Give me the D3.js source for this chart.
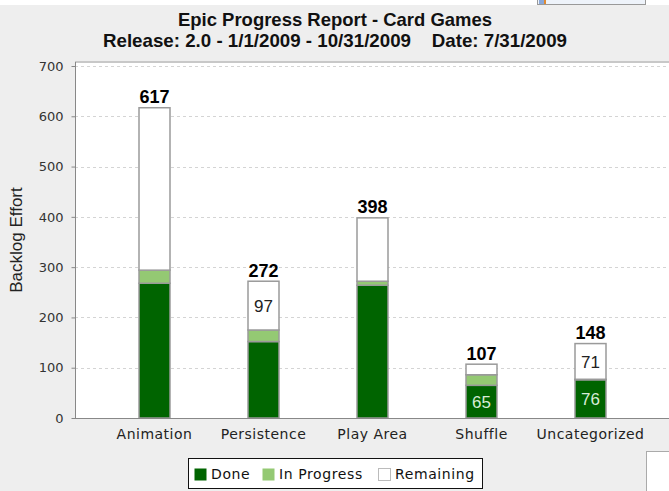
<!DOCTYPE html>
<html>
<head>
<meta charset="utf-8">
<script src="https://cdn.jsdelivr.net/npm/d3@7"></script>
<style>
  body { margin: 0; background: #eeeeee; }
  svg { display: block; }
</style>
</head>
<body>
<div id="chart"></div>
<script>
const categories = ['Animation', 'Persistence', 'Play Area', 'Shuffle', 'Uncategorized'];
const done = [268, 152, 264, 65, 76];
const inProgress = [26, 23, 8, 21, 1];
const remaining = [323, 97, 126, 21, 71];
const seriesNames = ['Done', 'In Progress', 'Remaining'];
const seriesColors = ['#006400', '#94c973', '#ffffff'];
const yTicks = [0, 100, 200, 300, 400, 500, 600, 700];

const width = 669;
const height = 491;

let svg = d3.select('#chart')
  .append('svg')
  .attr('width', width)
  .attr('height', height);

// Background and the bits of other widgets around the chart.
svg.append('rect').attr('width', width).attr('height', height).attr('fill', '#eeeeee');
svg.append('rect').attr('width', width).attr('height', 5).attr('fill', '#ffffff');
svg.append('rect').attr('x', 537.5).attr('y', -1).attr('width', 108).attr('height', 5.5)
  .attr('fill', '#eef3fa').attr('stroke', '#999');
svg.append('rect').attr('x', 539).attr('y', 0).attr('width', 5).attr('height', 4).attr('fill', '#8aa8d8');
svg.append('rect').attr('x', 544).attr('y', 0).attr('width', 2).attr('height', 4).attr('fill', '#e08a30');
svg.append('rect').attr('x', 646.5).attr('y', 451.5).attr('width', 30).attr('height', 50)
  .attr('fill', '#ffffff').attr('stroke', '#aaa');

// Titles.
svg.append('text')
  .attr('x', 335).attr('y', 26)
  .attr('text-anchor', 'middle')
  .attr('textLength', 314).attr('lengthAdjust', 'spacingAndGlyphs')
  .style('font', 'bold 19px "Liberation Sans", Arial, sans-serif')
  .attr('fill', '#111')
  .text('Epic Progress Report - Card Games');

svg.append('text')
  .attr('x', 335).attr('y', 47)
  .attr('text-anchor', 'middle')
  .attr('textLength', 464).attr('lengthAdjust', 'spacingAndGlyphs')
  .style('font', 'bold 19px "Liberation Sans", Arial, sans-serif')
  .style('white-space', 'pre')
  .attr('fill', '#111')
  .text('Release: 2.0 - 1/1/2009 - 10/31/2009    Date: 7/31/2009');

const plotLeft = 75;
const plotTop = 62;
const plotBottom = 418;

let x = d3.scaleBand().domain(categories).range([100, 645]).padding(0);
let y = d3.scaleLinear().domain([0, 700]).range([plotBottom, 66]);
const barWidth = 31;

// Plot area.
svg.append('rect')
  .attr('x', plotLeft).attr('y', plotTop)
  .attr('width', width - plotLeft + 5).attr('height', plotBottom - plotTop)
  .attr('fill', '#ffffff');
svg.append('line')
  .attr('x1', plotLeft).attr('x2', width)
  .attr('y1', plotTop).attr('y2', plotTop)
  .attr('stroke', '#c8c8c8').attr('stroke-width', 2);

// Gridlines.
svg.append('g')
  .selectAll('line')
  .data(yTicks.filter(t => t > 0))
  .enter()
  .append('line')
    .attr('x1', plotLeft).attr('x2', width)
    .attr('y1', d => Math.round(y(d)) + 0.5)
    .attr('y2', d => Math.round(y(d)) + 0.5)
    .attr('stroke', '#d4d4d4')
    .attr('stroke-dasharray', '3,3');

// Y axis.
let yAxis = d3.axisLeft(y)
  .tickValues(yTicks)
  .tickSize(4)
  .tickPadding(8)
  .tickFormat(d3.format('d'));

let yg = svg.append('g')
  .attr('transform', `translate(${plotLeft + 0.5},0)`)
  .call(yAxis);
yg.select('.domain').attr('stroke', '#888').attr('d', `M0,${plotTop}V${plotBottom}`);
yg.selectAll('.tick line').attr('stroke', '#888');
yg.selectAll('.tick text')
  .attr('fill', '#333')
  .style('font', '13px "DejaVu Sans", sans-serif');

svg.append('text')
  .attr('transform', 'translate(22,240) rotate(-90)')
  .attr('text-anchor', 'middle')
  .attr('fill', '#222')
  .style('font', '17px "Liberation Sans", Arial, sans-serif')
  .text('Backlog Effort');

// Stacked bars.
let rows = categories.map((c, i) => ({
  category: c,
  'Done': done[i],
  'In Progress': inProgress[i],
  'Remaining': remaining[i]
}));
let stack = d3.stack().keys(seriesNames)(rows);

let barsG = svg.append('g');
stack.forEach((layer, li) => {
  barsG.append('g')
    .selectAll('rect')
    .data(layer)
    .enter()
    .append('rect')
      .attr('x', d => x(d.data.category) + (x.bandwidth() - barWidth) / 2)
      .attr('y', d => y(d[1]))
      .attr('width', barWidth)
      .attr('height', d => y(d[0]) - y(d[1]))
      .attr('fill', seriesColors[li])
      .attr('stroke', '#9a9a9a')
      .attr('stroke-width', 1.5);
});

// Segment labels, only where the value is small but the segment fits.
stack.forEach((layer, li) => {
  barsG.append('g')
    .selectAll('text')
    .data(layer.filter(d => {
      let v = d[1] - d[0];
      return v < 100 && v >= 40;
    }))
    .enter()
    .append('text')
      .attr('x', d => x(d.data.category) + x.bandwidth() / 2)
      .attr('y', d => (y(d[0]) + y(d[1])) / 2)
      .attr('dy', '0.36em')
      .attr('text-anchor', 'middle')
      .attr('fill', li === 0 ? '#d8ecd8' : '#222')
      .style('font', '17px "Liberation Sans", Arial, sans-serif')
      .text(d => d[1] - d[0]);
});

// Totals above bars.
svg.append('g')
  .selectAll('text')
  .data(rows)
  .enter()
  .append('text')
    .attr('x', d => x(d.category) + x.bandwidth() / 2)
    .attr('y', d => y(d['Done'] + d['In Progress'] + d['Remaining']) - 4.5)
    .attr('text-anchor', 'middle')
    .attr('fill', '#000')
    .style('font', 'bold 18px "Liberation Sans", Arial, sans-serif')
    .text(d => d['Done'] + d['In Progress'] + d['Remaining']);

// X axis.
let xAxis = d3.axisBottom(x).tickSize(0).tickPadding(11);
let xg = svg.append('g')
  .attr('transform', `translate(0,${plotBottom + 0.5})`)
  .call(xAxis);
xg.select('.domain').attr('stroke', '#888').attr('d', `M${plotLeft},0H${width}`);
xg.selectAll('.tick text')
  .attr('fill', '#222')
  .style('font', '14px "DejaVu Sans", sans-serif')
  .style('letter-spacing', '0.5px');

// Legend.
let legend = svg.append('g');
legend.append('rect')
  .attr('x', 188.5).attr('y', 458.5)
  .attr('width', 294).attr('height', 30)
  .attr('fill', '#ffffff').attr('stroke', '#111');

const legendX = [194, 262, 378];
let items = legend.selectAll('g.item')
  .data(seriesNames)
  .enter()
  .append('g')
    .attr('transform', (d, i) => `translate(${legendX[i]},468)`);
items.append('rect')
  .attr('x', 0.5).attr('y', 0.5)
  .attr('width', 12).attr('height', 12)
  .attr('fill', (d, i) => seriesColors[i])
  .attr('stroke', (d, i) => i === 2 ? '#bbb' : 'none');
items.append('text')
  .attr('x', 17).attr('y', 11)
  .attr('fill', '#111')
  .style('font', '14px "DejaVu Sans", sans-serif')
  .style('letter-spacing', '0.6px')
  .text(d => d);
</script>
</body>
</html>
